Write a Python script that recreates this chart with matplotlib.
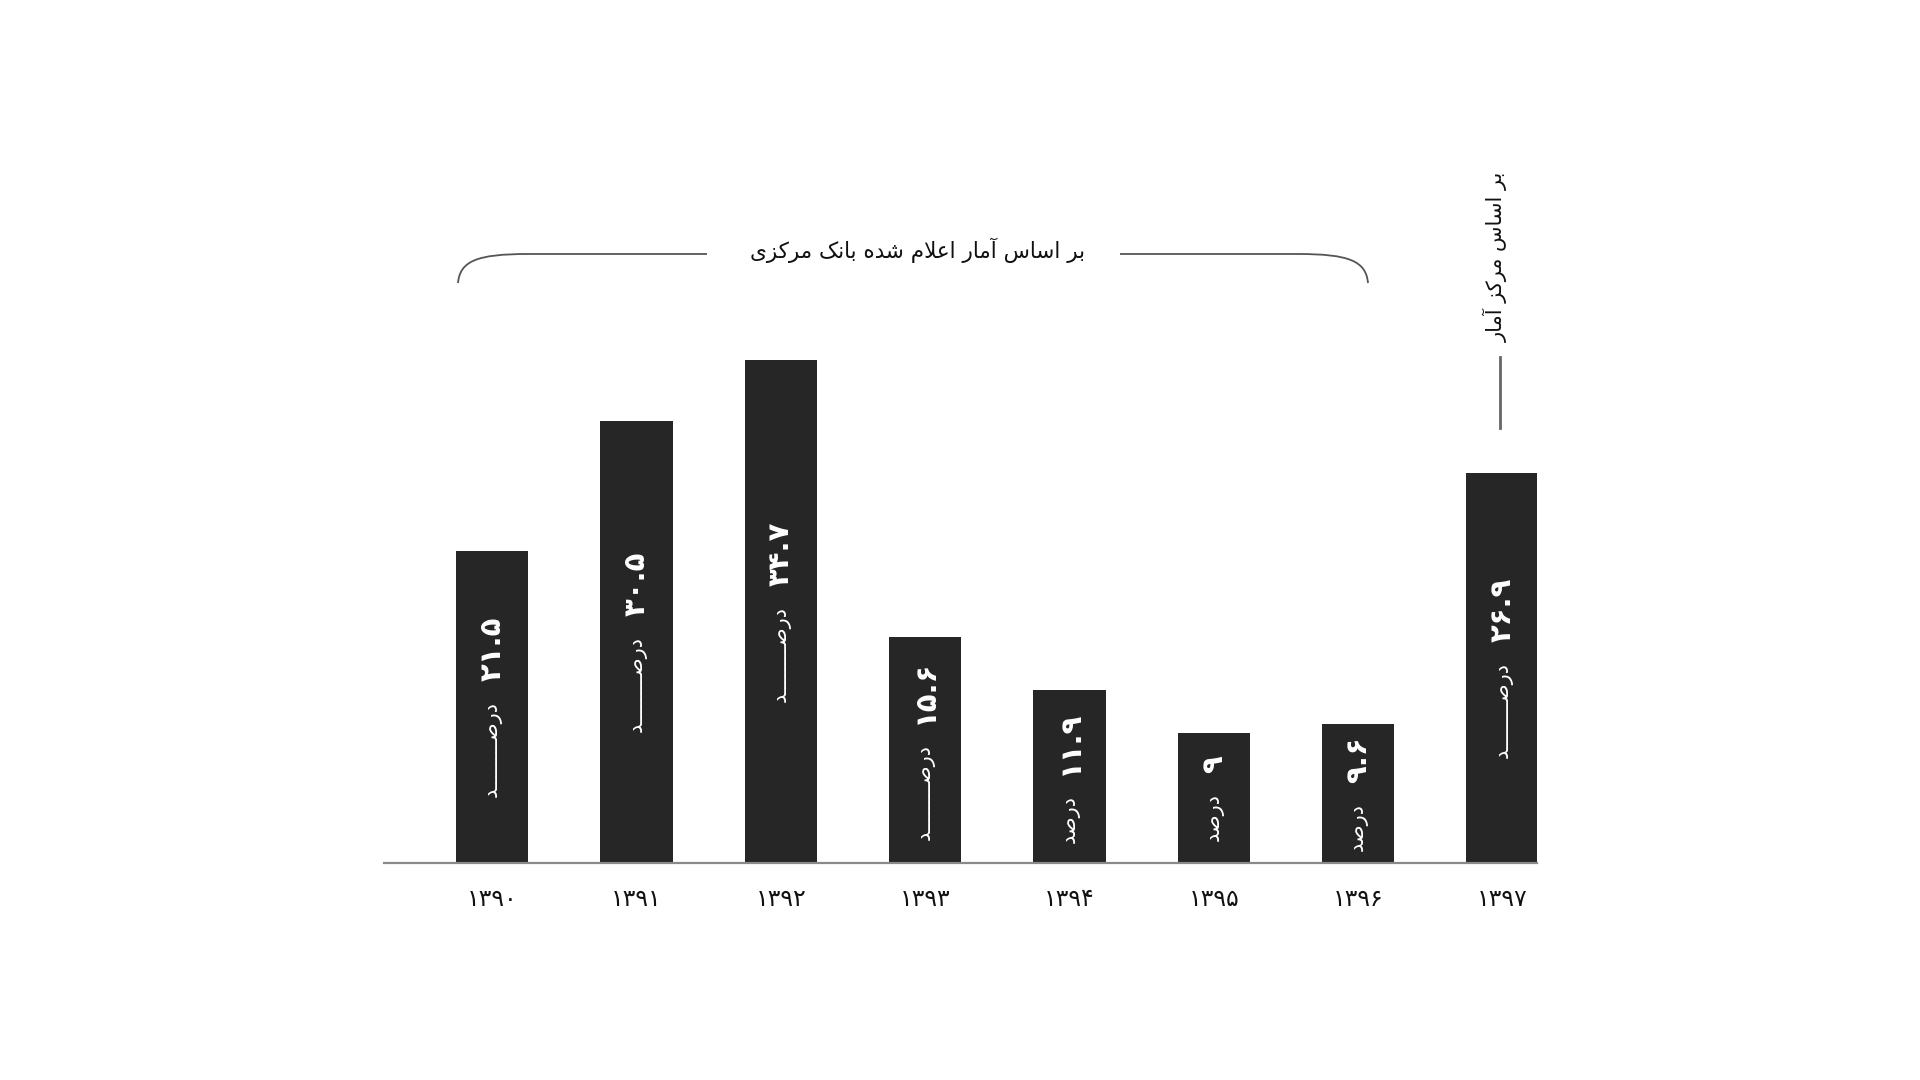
import matplotlib
matplotlib.use("Agg")
import matplotlib.pyplot as plt
from matplotlib.path import Path
from matplotlib.patches import PathPatch
from matplotlib.transforms import offset_copy

plt.rcParams['font.family'] = ['DejaVu Sans']

# data
years = [1390, 1391, 1392, 1393, 1394, 1395, 1396, 1397]
values = [21.5, 30.5, 34.7, 15.6, 11.9, 9, 9.6, 26.9]
kashida = [8, 8, 8, 8, 0, 0, 0, 8]

FA = str.maketrans("0123456789", "۰۱۲۳۴۵۶۷۸۹")

# Persian words, pre-shaped (presentation forms, visual order)
BAR = "\uFEAE\uFE91"
ASAS = "\uFEB1\uFE8E\uFEB3\uFE8D"
AMAR = "\uFEAD\uFE8E\uFEE3\uFE81"
ELAM = "\uFEE1\uFEFC\uFECB\uFE8D"
SHODE = "\uFEE9\uFEAA\uFEB7"
BANK = "\uFB8F\uFEE7\uFE8E\uFE91"
MARKAZI = "\uFBFC\uFEB0\uFB90\uFEAE\uFEE3"
MARKAZ = "\uFEB0\uFB90\uFEAE\uFEE3"

top_note = " ".join([MARKAZI, BANK, SHODE, ELAM, AMAR, ASAS, BAR])
right_note = " ".join([AMAR, MARKAZ, ASAS, BAR])


def darsad(n):
    return "\uFEAA" + "\u0640" * n + "\uFEBB\uFEAD\uFEA9"


BAR_COLOR = '#262626'

fig = plt.figure(figsize=(19.2, 10.8), dpi=100)

# overlay in pixel coordinates for the decorations
deco = fig.add_axes([0, 0, 1, 1])
deco.set_xlim(0, 1920)
deco.set_ylim(1080, 0)
deco.axis('off')

# main bar axes
ax = fig.add_axes([384 / 1920, (1080 - 863) / 1080, 1153 / 1920, 580 / 1080])
ax.patch.set_alpha(0)
x = list(range(len(years)))
ax.bar(x, values, width=0.5, color=BAR_COLOR, zorder=2)
ax.set_xlim(-0.75, 7.24)
ax.set_ylim(0, 40)
for s in ['top', 'right', 'left']:
    ax.spines[s].set_visible(False)
ax.spines['bottom'].set_color('#8a8a8a')
ax.spines['bottom'].set_linewidth(1.6)
ax.set_yticks([])
ax.set_xticks(x, [str(y).translate(FA) for y in years])
ax.tick_params(axis='x', length=0, pad=17, labelsize=17, labelcolor='#111111')

# in-bar labels: bold number + "darsad", rotated, centred in the bar
renderer = fig.canvas.get_renderer()
gap = 20
for xi, v, k in zip(x, values, kashida):
    num = ("%g" % v).translate(FA)
    t_num = ax.text(xi, v / 2, num, rotation=90, ha='center', va='bottom',
                    fontsize=21, fontweight='bold', color='white', zorder=3)
    t_pct = ax.text(xi, v / 2, darsad(k), rotation=90, ha='center', va='top',
                    fontsize=15, color='white', zorder=3)
    ln = t_num.get_window_extent(renderer).height
    ld = t_pct.get_window_extent(renderer).height
    total = ln + gap + ld
    split = -total / 2 + ld + gap
    t_num.set_transform(offset_copy(ax.transData, fig, y=split, units='dots'))
    t_pct.set_transform(offset_copy(ax.transData, fig, y=split - gap, units='dots'))

# bracket over 1390-1396
line_kw = dict(facecolor='none', edgecolor='#555555', linewidth=1.3)
left = Path([(458, 283), (460, 261), (477, 254), (528, 254), (707, 254)],
            [Path.MOVETO, Path.CURVE4, Path.CURVE4, Path.CURVE4, Path.LINETO])
right = Path([(1368, 283), (1366, 261), (1349, 254), (1298, 254), (1120, 254)],
             [Path.MOVETO, Path.CURVE4, Path.CURVE4, Path.CURVE4, Path.LINETO])
deco.add_patch(PathPatch(left, **line_kw))
deco.add_patch(PathPatch(right, **line_kw))
deco.text(917, 250, top_note, ha='center', va='center', fontsize=15.5, color='#111111')

# note over 1397
deco.plot([1500, 1500], [357, 428], color='#666666', linewidth=2)
deco.text(1496, 257, right_note, rotation=90, ha='center', va='center',
          fontsize=15, color='#111111')

fig.savefig('out.png', dpi=100)
